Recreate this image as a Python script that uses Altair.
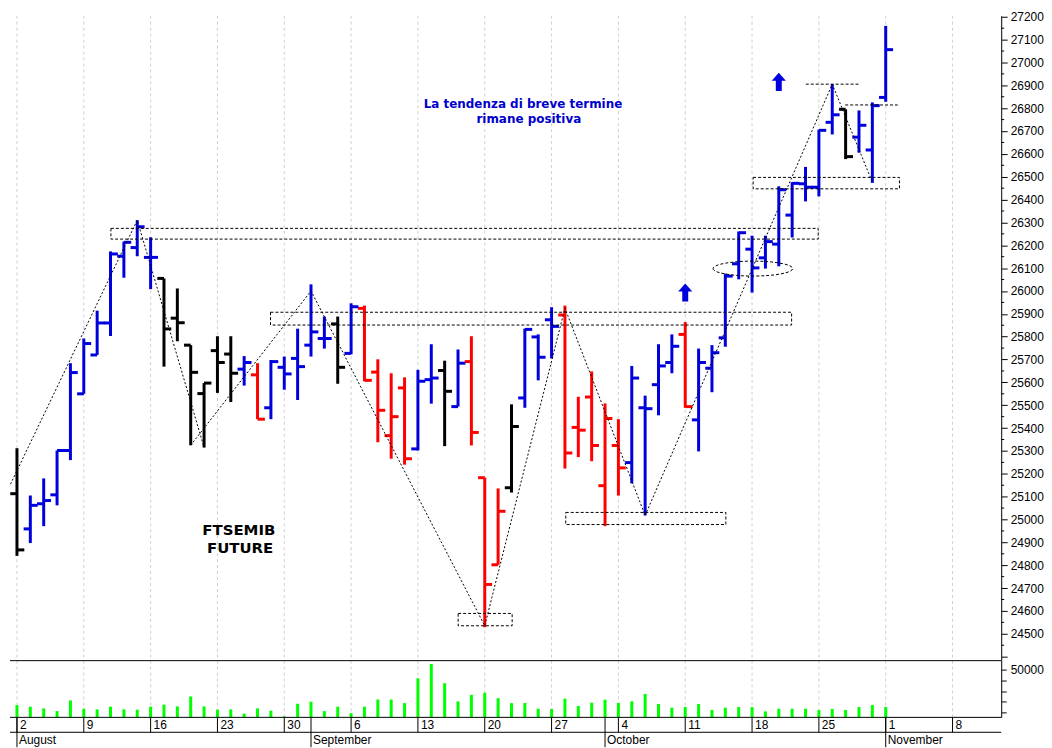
import altair as alt
import pandas as pd

# ---------------- data (trading days 2 Aug -> 1 Nov) ----------------
opens = [25113, 24959, 25069, 25108, 25302, 25550, 25720, 25860, 26152, 26190,
         26147, 26055, 25881, 25763, 25551, 25739, 25724, 25658, 25633, 25489,
         25666, 25705, 25763, 25792, 25856, 25727, 25924, 25645, 25367, 25576,
         25309, 25612, 25652, 25494, 25691, 25183, 24802, 25139, 25532, 25799,
         25874, 25895, 25403, 25536, 25148, 25324, 25249, 25489, 25590, 25687,
         25810, 25436, 25662, 25795, 26119, 26183, 26145, 26205, 26332, 26469,
         26454, 26738, 26795, 26673, 26617, 26847]
highs = [25312, 25105, 25180, 25302, 25684, 25792, 25914, 26173, 26216, 26310,
         26235, 26055, 26011, 25763, 25597, 25802, 25802, 25715, 25684, 25698,
         25713, 25835, 26029, 25888, 25888, 25946, 25936, 25701, 25640, 25622,
         25655, 25767, 25695, 25744, 25802, 25183, 25136, 25504, 25835, 25810,
         25929, 25936, 25537, 25648, 25508, 25439, 25672, 25542, 25767, 25810,
         25864, 25748, 25763, 26076, 26260, 26242, 26242, 26458, 26476, 26543,
         26706, 26905, 26795, 26790, 26825, 27160]
lows = [24841, 24897, 24971, 25062, 25260, 25550, 25720, 25803, 26058, 26152,
        26008, 25669, 25780, 25325, 25315, 25554, 25514, 25586, 25439, 25439,
        25568, 25523, 25713, 25748, 25594, 25723, 25605, 25338, 25266, 25240,
        25302, 25507, 25321, 25494, 25324, 24529, 24802, 25118, 25489, 25609,
        25705, 25223, 25273, 25255, 24971, 25105, 25158, 25018, 25456, 25640,
        25489, 25298, 25557, 25756, 26051, 25993, 26098, 26108, 26234, 26392,
        26414, 26685, 26577, 26605, 26473, 26828]
closes = [24867, 25062, 25083, 25302, 25643, 25770, 25860, 26162, 26213, 26281,
          26147, 25834, 25861, 25644, 25597, 25687, 25640, 25687, 25439, 25691,
          25637, 25669, 25821, 25792, 25666, 25931, 25609, 25478, 25450, 25266,
          25605, 25619, 25561, 25684, 25381, 24716, 25036, 25407, 25832, 25710,
          25845, 25291, 25391, 25324, 25442, 25226, 25619, 25485, 25672, 25758,
          25494, 25687, 25730, 26065, 26255, 26101, 26216, 26443, 26471, 26454,
          26703, 26771, 26588, 26725, 26811, 27056]
# B = blue, R = red, K = black bar
bar_colour = list("K" "BBBBBBBBBB" "KKKKKK" "B" "R" "BBBBB" "K" "B" "RRRR" "BB" "K" "B"
                  "RRR" "K" "BBB" "RRRRR" "BBBB" "R" "BBBBBBBBBBB" "K" "BBB")
volumes = [17000, 15500, 13900, 11400, 21400, 13600, 13000, 15500, 13000, 12700,
           15500, 17400, 15800, 25100, 15800, 12700, 13000, 9000, 13900, 11800,
           6400, 18300,
           20200, 11400, 15500, 9500, 15500, 22300, 22300, 18900, 42200, 55700,
           37600, 20500, 26700, 28600, 23500, 18900, 19000, 13600, 13400, 23100,
           16200, 19300,
           22100, 19000, 20600, 27500, 18000, 14600, 15200, 18000, 12400, 14600,
           15200, 15200, 11100, 13600, 13600, 13600, 12400, 13400, 12400, 15200,
           17100,
           15200]

week_pos = [0, 5, 10, 15, 20, 25, 30, 35, 40, 45, 50, 55, 60, 65, 70]
week_labels = ["2", "9", "16", "23", "30", "6", "13", "20", "27", "4", "11", "18", "25", "1", "8"]
month_pos = [0, 22, 44, 65]
month_labels = ["August", "September", "October", "November"]

price_ticks = list(range(24400, 27201, 100))
price_minor = list(range(24450, 27200, 100))
vol_ticks = [10000, 20000, 30000, 40000, 50000]

zz_seg = ["a", "a", "a", "b", "b", "b", "b", "b", "b", "b"]
zz_pos = [-1, 9, 14, 13, 22, 35, 41, 47, 61, 64]
zz_price = [25092, 26310, 25315, 25325, 26000, 24535, 25925, 25018, 26905, 26476]

box_x1 = [7.03, 18.97, 33.01, 41.06, 55.08]
box_x2 = [59.95, 57.96, 37.05, 53.04, 66.03]
box_lo = [26227, 25851, 24535, 24978, 26447]
box_hi = [26274, 25907, 24589, 25031, 26497]

lvl_x1 = [59.02, 61.97]
lvl_x2 = [63.12, 65.9]
lvl_price = [26905, 26814]

ellipse_pos = [55.06]
ellipse_price = [26098]
arrow_pos = [50, 57]
arrow_price = [25993, 26915]

note_lines = ["La tendenza di breve termine", "rimane positiva"]
note_pos = [37.86, 38.3]
note_price = [26816, 26751]
title_lines = ["FTSEMIB", "FUTURE"]
title_pos = [16.6, 16.7]
title_price = [24955, 24877]

# ---------------- layout ----------------
W = 996
H_PRICE = 648
H_VOL = 57
H_DATE = 30
X_DOMAIN = [-0.5212, 73.6411]
Y_DOMAIN = [24382.45, 27204.35]
V_DOMAIN = [5500, 58800]
FONT = "Liberation Sans"

BLUE = "#0000DD"
ELLIPSE = "M-1,0A1,0.1875,0,1,0,1,0A1,0.1875,0,1,0,-1,0Z"
ARROW = "M0,-1L0.78,-0.12L0.33,-0.12L0.33,1L-0.33,1L-0.33,-0.12L-0.78,-0.12Z"

xs = alt.Scale(domain=X_DOMAIN, nice=False, zero=False)
ys = alt.Scale(domain=Y_DOMAIN, nice=False, zero=False)
vs = alt.Scale(domain=V_DOMAIN, nice=False, zero=False)

price_axis = alt.Axis(orient="right", values=price_ticks, title=None, grid=False,
                      labelExpr="datum.value < 24450 ? '' : format(datum.value, 'd')",
                      tickSize=6, labelPadding=3, domainColor="black", tickColor="black",
                      labelColor="black", labelFont=FONT, labelFontSize=12,
                      domainWidth=1, tickWidth=1)
vol_axis = alt.Axis(orient="right", values=vol_ticks, title=None, grid=False,
                    labelExpr="datum.value == 50000 ? '50000' : ''",
                    tickSize=5, labelPadding=4, domainColor="black", tickColor="black",
                    labelColor="black", labelFont=FONT, labelFontSize=12,
                    domainWidth=1, tickWidth=1)


def X(f):
    return alt.X(f, type="quantitative", scale=xs, axis=None)


def Y(f):
    return alt.Y(f, type="quantitative", scale=ys, axis=price_axis)


bars = pd.DataFrame({"i": list(range(len(opens))), "open": opens, "high": highs,
                     "low": lows, "close": closes, "c": bar_colour})
colour = alt.Color("c:N", scale=alt.Scale(domain=["B", "R", "K"],
                                          range=[BLUE, "#FF0000", "#000000"]), legend=None)

grid_df = pd.DataFrame({"w": week_pos})
grid = alt.Chart(grid_df).mark_rule(color="#CFCFCF", strokeWidth=1, strokeDash=[3, 3]).encode(x=X("w"))

base = alt.Chart(bars)
hl = base.mark_rule(strokeWidth=3).encode(x=X("i"), y=Y("high"), y2="low:Q", color=colour)
open_t = base.transform_calculate(i0="datum.i - 0.5").mark_rule(strokeWidth=3).encode(
    x=X("i0"), x2="i:Q", y=Y("open"), color=colour)
close_t = base.transform_calculate(i1="datum.i + 0.55").mark_rule(strokeWidth=3).encode(
    x=X("i"), x2="i1:Q", y=Y("close"), color=colour)

zz_df = pd.DataFrame({"seg": zz_seg, "pos": zz_pos, "price": zz_price, "k": list(range(len(zz_pos)))})
zigzag = alt.Chart(zz_df).mark_line(color="black", strokeWidth=1, strokeDash=[2, 2], clip=True).encode(
    x=X("pos"), y=Y("price"), detail="seg:N", order="k:Q")

box_df = pd.DataFrame({"x1": box_x1, "x2": box_x2, "lo": box_lo, "hi": box_hi})
boxes = alt.Chart(box_df).mark_rect(fillOpacity=0, stroke="black", strokeWidth=1, strokeDash=[3, 2]).encode(
    x=X("x1"), x2="x2:Q", y=Y("lo"), y2="hi:Q")

lvl_df = pd.DataFrame({"x1": lvl_x1, "x2": lvl_x2, "p": lvl_price})
levels = alt.Chart(lvl_df).mark_rule(color="black", strokeWidth=1, strokeDash=[3, 2]).encode(
    x=X("x1"), x2="x2:Q", y=Y("p"))

ell_df = pd.DataFrame({"pos": ellipse_pos, "price": ellipse_price})
ellipse = alt.Chart(ell_df).mark_point(shape=ELLIPSE, size=6400, filled=False, color="black",
                                       strokeWidth=1, strokeDash=[3, 2], opacity=1).encode(
    x=X("pos"), y=Y("price"))

arr_df = pd.DataFrame({"pos": arrow_pos, "price": arrow_price})
arrows = alt.Chart(arr_df).mark_point(shape=ARROW, size=330, filled=True, color=BLUE, opacity=1).encode(
    x=X("pos"), y=Y("price"))

note_df = pd.DataFrame({"t": note_lines, "pos": note_pos, "price": note_price})
notes = alt.Chart(note_df).mark_text(font="DejaVu Sans", fontSize=12, fontWeight="bold", color="#0000CC",
                                     align="center", baseline="middle").encode(
    x=X("pos"), y=Y("price"), text="t:N")

title_df = pd.DataFrame({"t": title_lines, "pos": title_pos, "price": title_price})
titles = alt.Chart(title_df).mark_text(font="DejaVu Sans", fontSize=15, fontWeight="bold", color="black",
                                       align="center", baseline="middle").encode(
    x=X("pos"), y=Y("price"), text="t:N")

minor_df = pd.DataFrame({"m": price_minor})
minor = alt.Chart(minor_df).mark_rule(color="black", strokeWidth=1).encode(
    y=Y("m"), x=alt.value(W), x2=alt.value(W + 3))

price = alt.layer(grid, hl, open_t, close_t, zigzag, boxes, levels, ellipse, arrows,
                  notes, titles, minor).properties(width=W, height=H_PRICE)

# ---------------- volume panel ----------------
vol_df = pd.DataFrame({"i": list(range(len(volumes))), "v": volumes})
vbars = alt.Chart(vol_df).mark_rule(color="#00FF00", strokeWidth=3).encode(
    x=X("i"), y=alt.Y("v:Q", scale=vs, axis=vol_axis), y2=alt.value(H_VOL))
one = pd.DataFrame({"k": [0]})
vtop = alt.Chart(one).mark_rule(color="black", strokeWidth=1).encode(
    x=alt.value(0), x2=alt.value(W), y=alt.value(0))
vbot = alt.Chart(one).mark_rule(color="black", strokeWidth=1).encode(
    x=alt.value(0), x2=alt.value(W), y=alt.value(H_VOL))
volume = alt.layer(grid, vbars, vtop, vbot).properties(width=W, height=H_VOL)

# ---------------- date rows ----------------
week_df = pd.DataFrame({"w": week_pos, "lab": week_labels})
month_df = pd.DataFrame({"m": month_pos, "lab": month_labels})
wticks = alt.Chart(week_df).mark_rule(color="black", strokeWidth=1).encode(
    x=X("w"), y=alt.value(0), y2=alt.value(15))
wtext = alt.Chart(week_df).mark_text(align="left", baseline="middle", dx=3, font=FONT, fontSize=12,
                                     color="black").encode(x=X("w"), y=alt.value(8), text="lab:N")
mticks = alt.Chart(month_df).mark_rule(color="black", strokeWidth=1).encode(
    x=X("m"), y=alt.value(0), y2=alt.value(H_DATE))
mtext = alt.Chart(month_df).mark_text(align="left", baseline="middle", dx=2, font=FONT, fontSize=12,
                                      color="black").encode(x=X("m"), y=alt.value(23), text="lab:N")
mid = alt.Chart(one).mark_rule(color="black", strokeWidth=1).encode(
    x=alt.value(0), x2=alt.value(W), y=alt.value(15))
dates = alt.layer(wticks, wtext, mticks, mtext, mid).properties(width=W, height=H_DATE)

chart = alt.vconcat(price, volume, dates, spacing=0, bounds="flush").properties(
    padding=0).configure_view(stroke=None)

chart.save("out.html", embed_options={"renderer": "svg", "actions": False})
